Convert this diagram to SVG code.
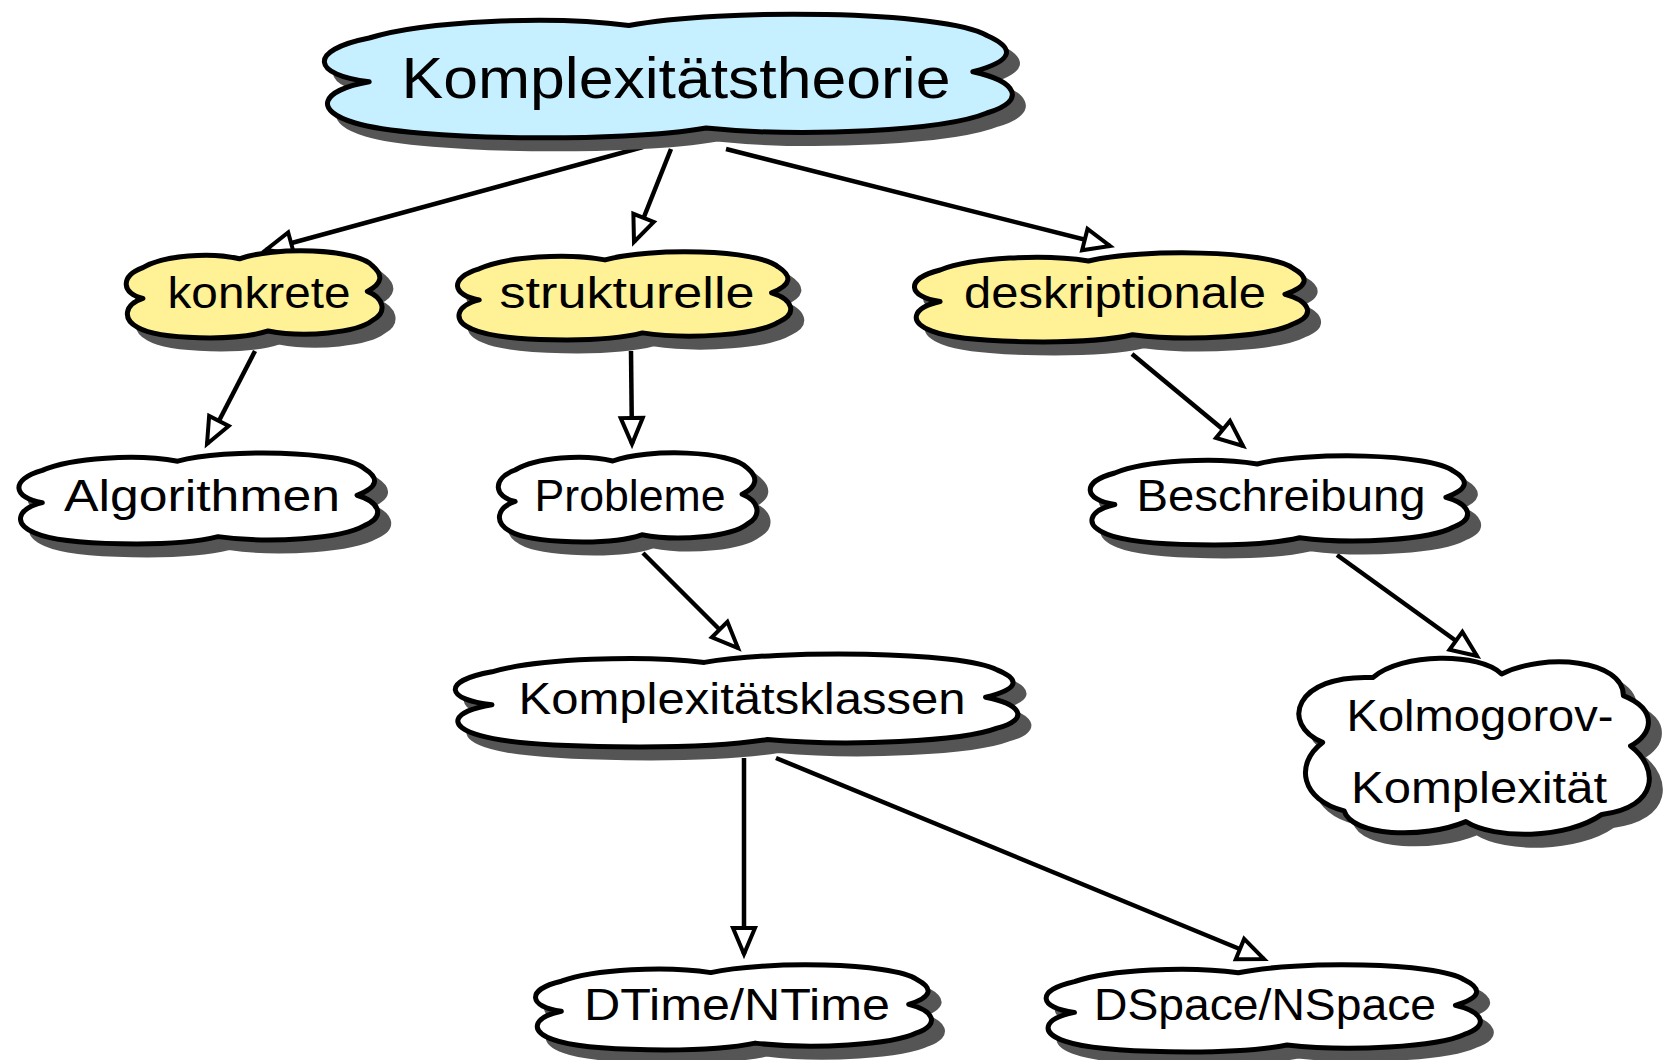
<svg xmlns="http://www.w3.org/2000/svg" xmlns:xlink="http://www.w3.org/1999/xlink" width="1666" height="1060" viewBox="0 0 1666 1060">
  <style>
    .shadow { fill: #555555; stroke: #555555; }
    .blue { fill: #c6f0ff; stroke: #000; }
    .yellow { fill: #fff196; stroke: #000; }
    .white { fill: #ffffff; stroke: #000; }
    .shape { stroke-width: 5; stroke-linejoin: round; }
    .label { font-family: "Liberation Sans", "DejaVu Sans", sans-serif; font-size: 44px; fill: #000; text-anchor: middle; }
    .title { font-size: 58px; }
    .edge { fill: none; stroke: #000; stroke-width: 4.5; marker-end: url(#open-arrow); }
  </style>
  <defs>
    <!-- wide cloud with a notch on each side, drawn in a 100x100 box -->
    <path id="cloud" vector-effect="non-scaling-stroke" d="M 8,55 C 0,50 -1,30 8,20 C 16,6 34,2 45,10 C 58,-4 90,-2 96,18 C 100,28 100,38 94,47 C 100,54 102,70 96,80 C 90,94 70,100 56,92 C 44,104 14,102 6,88 C 0,78 1,62 8,55 Z"/>
    <!-- rounder cloud for two-line labels -->
    <path id="cloud-round" vector-effect="non-scaling-stroke" d="M 8,48 C -4,38 0,10 22,12 C 30,-2 52,-2 58,10 C 70,-2 92,2 92,22 C 102,30 100,44 94,50 C 102,62 102,84 86,88 C 76,102 56,102 48,92 C 36,102 16,100 14,86 C 2,80 0,60 8,48 Z"/>
    <marker id="open-arrow" markerUnits="userSpaceOnUse" viewBox="0 0 30 26" refX="28" refY="13" markerWidth="30" markerHeight="26" orient="auto" overflow="visible">
      <path d="M2,2 L28,13 L2,24 Z" fill="#fff" stroke="#000" stroke-width="4" stroke-linejoin="miter"/>
    </marker>
  </defs>

  <g id="connectors">
    <line class="edge" x1="643" y1="147" x2="266" y2="250"/>
    <line class="edge" x1="671" y1="149" x2="634" y2="242"/>
    <line class="edge" x1="726" y1="149" x2="1110" y2="246"/>
    <line class="edge" x1="255" y1="351" x2="207" y2="444"/>
    <line class="edge" x1="631" y1="351" x2="632" y2="444"/>
    <line class="edge" x1="1132" y1="354" x2="1243" y2="446"/>
    <line class="edge" x1="643" y1="553" x2="738" y2="648"/>
    <line class="edge" x1="1337" y1="555" x2="1477" y2="656"/>
    <line class="edge" x1="744" y1="758" x2="744" y2="954"/>
    <line class="edge" x1="776" y1="758" x2="1264" y2="959"/>
  </g>

  <g id="node-komplexitaetstheorie">
    <use href="#cloud" class="shadow shape" transform="translate(324,24) scale(7.02,1.25)"/>
    <use href="#cloud" class="blue shape" transform="translate(313,13) scale(7.02,1.25)"/>
    <text class="label title" x="676" y="98" textLength="549" lengthAdjust="spacingAndGlyphs">Komplexitätstheorie</text>
  </g>

  <g id="node-konkrete">
    <use href="#cloud" class="shadow shape" transform="translate(133,261) scale(2.61,0.88)"/>
    <use href="#cloud" class="yellow shape" transform="translate(122,250) scale(2.61,0.88)"/>
    <text class="label" x="259" y="308" textLength="183" lengthAdjust="spacingAndGlyphs">konkrete</text>
  </g>

  <g id="node-strukturelle">
    <use href="#cloud" class="shadow shape" transform="translate(463,262) scale(3.40,0.89)"/>
    <use href="#cloud" class="yellow shape" transform="translate(452,251) scale(3.40,0.89)"/>
    <text class="label" x="627" y="308" textLength="255" lengthAdjust="spacingAndGlyphs">strukturelle</text>
  </g>

  <g id="node-deskriptionale">
    <use href="#cloud" class="shadow shape" transform="translate(919,263) scale(4.01,0.90)"/>
    <use href="#cloud" class="yellow shape" transform="translate(908,252) scale(4.01,0.90)"/>
    <text class="label" x="1115" y="308" textLength="302" lengthAdjust="spacingAndGlyphs">deskriptionale</text>
  </g>

  <g id="node-algorithmen">
    <use href="#cloud" class="shadow shape" transform="translate(24,463) scale(3.66,0.92)"/>
    <use href="#cloud" class="white shape" transform="translate(13,452) scale(3.66,0.92)"/>
    <text class="label" x="202" y="511" textLength="276" lengthAdjust="spacingAndGlyphs">Algorithmen</text>
  </g>

  <g id="node-probleme">
    <use href="#cloud" class="shadow shape" transform="translate(505,463) scale(2.64,0.90)"/>
    <use href="#cloud" class="white shape" transform="translate(494,452) scale(2.64,0.90)"/>
    <text class="label" x="630" y="511" textLength="191" lengthAdjust="spacingAndGlyphs">Probleme</text>
  </g>

  <g id="node-beschreibung">
    <use href="#cloud" class="shadow shape" transform="translate(1095,466) scale(3.85,0.90)"/>
    <use href="#cloud" class="white shape" transform="translate(1084,455) scale(3.85,0.90)"/>
    <text class="label" x="1281" y="511" textLength="289" lengthAdjust="spacingAndGlyphs">Beschreibung</text>
  </g>

  <g id="node-komplexitaetsklassen">
    <use href="#cloud" class="shadow shape" transform="translate(457,664) scale(5.74,0.94)"/>
    <use href="#cloud" class="white shape" transform="translate(446,653) scale(5.74,0.94)"/>
    <text class="label" x="742" y="714" textLength="447" lengthAdjust="spacingAndGlyphs">Komplexitätsklassen</text>
  </g>

  <g id="node-kolmogorov">
    <use href="#cloud-round" class="shadow shape" transform="translate(1305,667) scale(3.58,1.80)"/>
    <use href="#cloud-round" class="white shape" transform="translate(1294,656) scale(3.58,1.80)"/>
    <text class="label" x="1480" y="731" textLength="267" lengthAdjust="spacingAndGlyphs">Kolmogorov-</text>
    <text class="label" x="1479" y="803" textLength="256" lengthAdjust="spacingAndGlyphs">Komplexität</text>
  </g>

  <g id="node-dtime">
    <use href="#cloud" class="shadow shape" transform="translate(540,975) scale(4.04,0.86)"/>
    <use href="#cloud" class="white shape" transform="translate(529,964) scale(4.04,0.86)"/>
    <text class="label" x="737" y="1020" textLength="306" lengthAdjust="spacingAndGlyphs">DTime/NTime</text>
  </g>

  <g id="node-dspace">
    <use href="#cloud" class="shadow shape" transform="translate(1050,975) scale(4.43,0.88)"/>
    <use href="#cloud" class="white shape" transform="translate(1039,964) scale(4.43,0.88)"/>
    <text class="label" x="1265" y="1020" textLength="342" lengthAdjust="spacingAndGlyphs">DSpace/NSpace</text>
  </g>
</svg>
